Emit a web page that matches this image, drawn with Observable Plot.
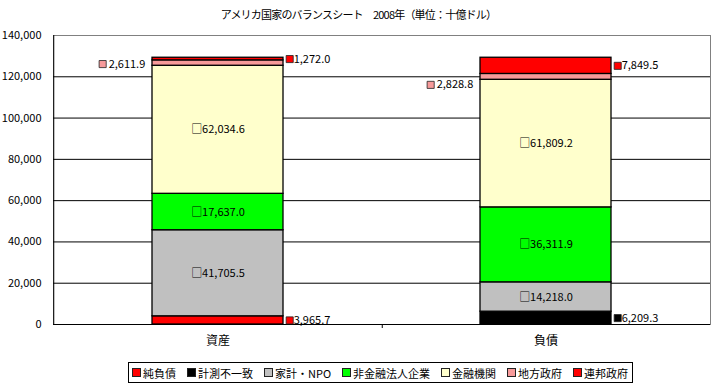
<!DOCTYPE html>
<html><head><meta charset="utf-8">
<script src="https://cdn.jsdelivr.net/npm/d3@7"></script>
<script src="https://cdn.jsdelivr.net/npm/@observablehq/plot@0.6"></script>
<style>
body{margin:0;background:#fff;font-family:"Noto Sans CJK JP",sans-serif;color:#000;width:717px;height:391px;position:relative;overflow:hidden;}
#title{position:absolute;left:0;top:6px;width:717px;text-align:center;font-size:11px;letter-spacing:-0.8px;line-height:16px;white-space:pre;}
#chart{position:absolute;left:0;top:25px;}
#legend{position:absolute;left:128px;top:362px;width:505px;height:21px;border:1px solid #000;box-sizing:border-box;display:flex;align-items:center;justify-content:space-between;padding:0 4px 0 3px;font-size:11px;line-height:12px;}
#legend .item{display:flex;align-items:center;white-space:nowrap;}
#legend .sw{width:7px;height:7px;border:1px solid #222;margin-right:2px;display:inline-block;}
</style></head><body>
<div id="title"></div>
<div id="chart"></div>
<div id="legend"></div>
<script>
const chartTitle = "アメリカ国家のバランスシート　2008年（単位：十億ドル）";
const categories = ["資産", "負債"];
const series = ["純負債", "計測不一致", "家計・NPO", "非金融法人企業", "金融機関", "地方政府", "連邦政府"];
const assetValues = [3965.7, 0, 41705.5, 17637.0, 62034.6, 2611.9, 1272.0];
const liabilityValues = [0, 6209.3, 14218.0, 36311.9, 61809.2, 2828.8, 7849.5];
const seriesColors = ["#FF0000", "#000000", "#C0C0C0", "#00FF00", "#FFFFCC", "#F79A9A", "#FF0000"];
const yTicks = [0, 20000, 40000, 60000, 80000, 100000, 120000, 140000];

// label placement (style, not data)
const labelSide = {"純負債": "right", "計測不一致": "right", "家計・NPO": "inside", "非金融法人企業": "inside", "金融機関": "inside", "地方政府": "left", "連邦政府": "right"};

document.getElementById("title").textContent = chartTitle;

const rows = [];
categories.forEach((cat, ci) => {
  const vals = ci === 0 ? assetValues : liabilityValues;
  series.forEach((s, si) => {
    if (vals[si] > 0) rows.push({cat, series: s, value: vals[si], side: labelSide[s]});
  });
});

const fmt = d3.format(",.1f");
const W = 717, H = 330, mL = 53, mR = 7, mT = 10, mB = 31;
const padIn = 0.6, padOut = 0.3;
const step = (W - mL - mR) / (categories.length - padIn + 2 * padOut);
const halfBar = step * (1 - padIn) / 2;
const toLeftEdge = padOut * step + halfBar;

const ctx = document.createElement("canvas").getContext("2d");
ctx.font = "11px 'Noto Sans CJK JP'";
const leftTextW = Math.max(...rows.filter(d => d.side === "left").map(d => ctx.measureText(fmt(d.value)).width));

const S = o => Plot.stackY({x: "cat", y: "value", z: "series", order: series, ...o});
const leftDy = {"資産": 1, "負債": 8};

const marks = [
  Plot.frame({stroke: "#808080"}),
  Plot.ruleY(yTicks.filter(t => t < 140000), {stroke: "#000", strokeWidth: 1}),
  Plot.ruleX([categories[0]], {dx: -toLeftEdge, stroke: "#000"}),
  Plot.ruleX([categories[0]], {dx: toLeftEdge, y1: 0, y2: 0, insetBottom: -4, stroke: "#000"}),
  Plot.barY(rows, S({fill: "series", stroke: "#000", strokeWidth: 1.3})),
  Plot.text(rows, S({text: d => d.side === "inside" ? "□" + fmt(d.value) : null, fontSize: 11, fill: "#000"})),
  Plot.text(rows, S({text: d => d.side === "right" ? fmt(d.value) : null, textAnchor: "start", dx: halfBar + 10, fontSize: 11, fill: "#000"})),
  Plot.dot(rows, S({symbol: "square", r: 4, dx: halfBar + 6, fill: "series", stroke: "#222", strokeWidth: 0.8,
    fillOpacity: d => d.side === "right" ? 1 : 0, strokeOpacity: d => d.side === "right" ? 1 : 0}))
];
categories.forEach(cat => {
  marks.push(Plot.text(rows, S({text: d => d.side === "left" && d.cat === cat ? fmt(d.value) : null, textAnchor: "end", dx: -halfBar - 7, dy: leftDy[cat], fontSize: 11, fill: "#000"})));
  marks.push(Plot.dot(rows, S({symbol: "square", r: 4, dx: -halfBar - 7 - leftTextW - 6, dy: leftDy[cat], fill: "series", stroke: "#222", strokeWidth: 0.8,
    fillOpacity: d => d.side === "left" && d.cat === cat ? 1 : 0, strokeOpacity: d => d.side === "left" && d.cat === cat ? 1 : 0})));
});
marks.push(Plot.axisY(yTicks, {tickSize: 0, tickPadding: 12, tickFormat: d3.format(","), fontSize: 11}));
marks.push(Plot.axisX({tickSize: 0, tickPadding: 12, fontSize: 12}));

const chart = Plot.plot({
  width: W, height: H,
  marginLeft: mL, marginRight: mR, marginTop: mT, marginBottom: mB,
  style: {fontFamily: "'Noto Sans CJK JP', sans-serif", background: "#fff", color: "#000"},
  x: {domain: categories, paddingInner: padIn, paddingOuter: padOut, label: null},
  y: {domain: [0, 140000], label: null},
  color: {domain: series, range: seriesColors},
  opacity: {domain: [0, 1], range: [0, 1]},
  marks
});
document.getElementById("chart").appendChild(chart);

const legend = document.getElementById("legend");
series.forEach((s, i) => {
  const item = document.createElement("span");
  item.className = "item";
  const sw = document.createElement("span");
  sw.className = "sw";
  sw.style.background = seriesColors[i];
  item.appendChild(sw);
  item.appendChild(document.createTextNode(s));
  legend.appendChild(item);
});
</script>
</body></html>
